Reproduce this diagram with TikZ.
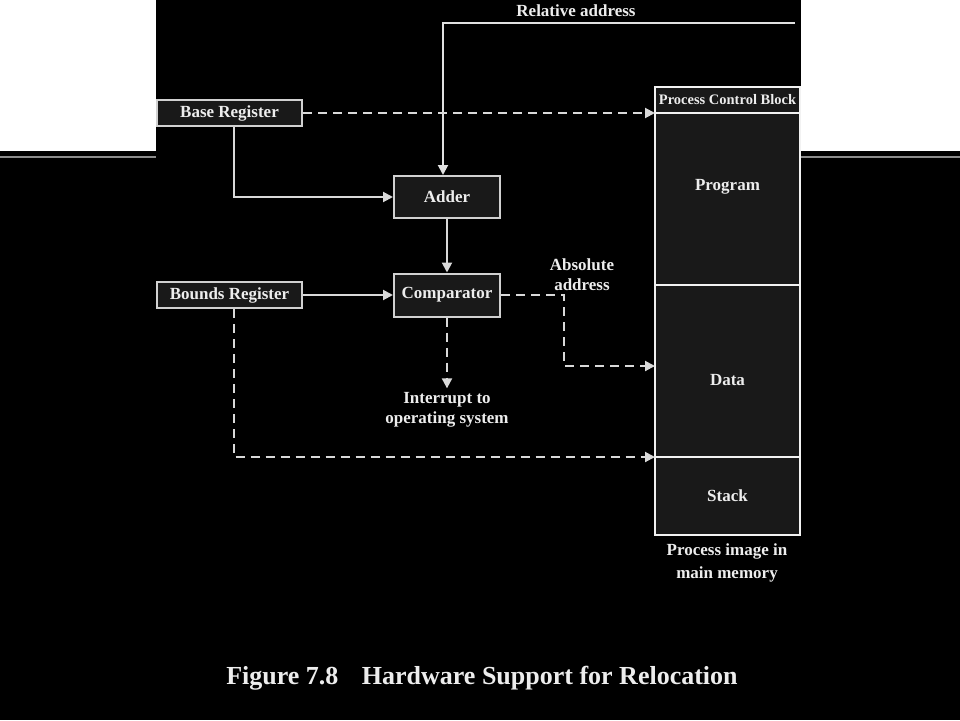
\documentclass[tikz,border=0pt]{standalone}
\usepackage{fontspec}
\setmainfont{Liberation Serif}
\usetikzlibrary{arrows.meta,positioning}

\begin{document}
\begin{tikzpicture}[x=1pt,y=-1pt,
   font=\bfseries\fontsize{17}{20}\selectfont,
   every node/.style={text=white!93!black},
   box/.style={draw=white!82!black,line width=2pt,fill=black!90,inner sep=0pt},
   mem/.style={draw=white!95!black,line width=2.8pt,fill=black!90,minimum width=145pt,inner sep=0pt,outer sep=0pt},
   to/.style={-{Triangle[length=10pt,width=10pt]},line width=2pt,draw=white!85!black},
   dashto/.style={to,dash pattern=on 9pt off 6pt},
   txt/.style={align=center,inner sep=4pt}]
% page and the two white corners
\useasboundingbox (0,0) rectangle (960,720);
\fill[black] (0,0) rectangle (960,720);
\fill[white] (0,0) rectangle (156,151);
\fill[white] (801,0) rectangle (960,151);
\draw[white!55!black,line width=2pt] (0,157) -- (156,157);
\draw[white!55!black,line width=2pt] (801,157) -- (960,157);

% registers and hardware
\node[box,minimum width=145pt,minimum height=26pt] (base) at (229.5,113) {Base Register};
\node[box,minimum width=145pt,minimum height=26pt] (bounds) at (229.5,295) {Bounds Register};
\node[box,minimum width=106pt,minimum height=42pt] (adder) at (447,197) {Adder};
\node[box,minimum width=106pt,minimum height=43pt] (comp) at (447,295) {Comparator};

% process image
\node[mem,minimum height=26pt,font=\bfseries\fontsize{14.5}{16}\selectfont] (pcb) at (727.5,100) {Process Control Block};
\node[mem,minimum height=172pt,below=0pt of pcb] (prog) {};
\node[mem,minimum height=172pt,below=0pt of prog] (data) {};
\node[mem,minimum height=78pt,below=0pt of data] (stack) {};
\node (progt) at ([yshift=12pt]prog.center) {Program};
\node (datat) at ([yshift=-9pt]data.center) {Data};
\node (stackt) at (stack.center) {Stack};
\node[txt,font=\bfseries\fontsize{17}{23}\selectfont] (image) at (727,563) {Process image in\\main memory};

% labels
\node (rel) at (576,11) {Relative address};
\coordinate (relend) at (795,23);
\node[txt] (abs) at (582,275) {Absolute\\address};
\node[txt] (intr) at (447,410) {Interrupt to\\operating system};

% connectors
\draw[to,draw=white!88!black] (relend) -| ([xshift=-4pt]adder.north);
\draw[to] ([xshift=4pt]base.south) |- (adder.west);
\draw[to] (adder) -- (comp);
\draw[to] (bounds) -- (comp);
\draw[dashto] (base) -- (pcb.south west |- base);
\draw[dashto] (comp.east) -- ++(63,0) |- ([yshift=5pt]data.west);
\draw[dashto] (comp.south) -- (intr.north);
\draw[dashto] ([xshift=4pt]bounds.south) |- (stack.north west);

% caption
\node[font=\bfseries\fontsize{26}{30}\selectfont] (cap) at (482,678) {Figure 7.8\hspace{0.9em}Hardware Support for Relocation};
\end{tikzpicture}
\end{document}
